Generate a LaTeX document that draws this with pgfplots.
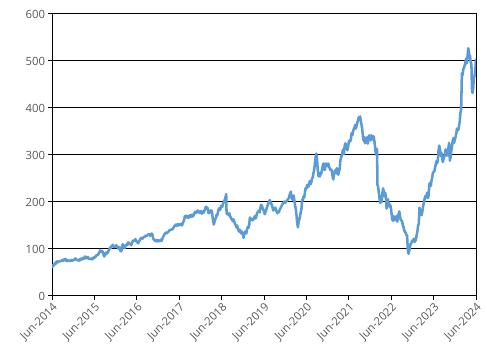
\documentclass[border=0pt]{standalone}
\usepackage{pgfplots}
\pgfplotsset{compat=1.18}
\usepackage{pgfplotstable}
\usepackage{fontspec}
\setmainfont{Open Sans}
\definecolor{lineblue}{HTML}{5B9BD5}
\definecolor{lblgray}{HTML}{595959}
\pgfplotstableread{
m v
0.00 64
0.15 62
0.30 66
0.45 64
0.60 67
0.80 68
0.95 71
1.15 69
1.30 73
1.45 72
1.60 74
1.80 72
2.00 74
2.20 73
2.40 75
2.60 74
2.80 76
3.00 77
3.20 75
3.40 78
3.60 76
3.80 79
4.00 77
4.20 74
4.40 76
4.60 74
4.80 75
5.00 76
5.20 74
5.40 75
5.60 77
5.80 75
6.00 77
6.20 76
6.40 78
6.60 80
6.80 78
7.00 77
7.20 76
7.40 77
7.60 75
7.80 78
8.00 76
8.20 79
8.40 80
8.60 78
8.80 81
9.00 79
9.20 82
9.40 84
9.60 82
9.80 80
10.00 83
10.20 82
10.40 79
10.60 80
10.80 78
11.00 79
11.20 80
11.40 78
11.60 81
11.80 80
12.00 83
12.20 82
12.40 85
12.60 87
12.80 86
13.00 88
13.20 90
13.40 93
13.60 97
13.80 95
14.00 94
14.20 96
14.40 92
14.60 88
14.80 84
15.00 90
15.20 92
15.40 89
15.60 93
15.80 92
16.00 96
16.20 99
16.40 103
16.60 102
16.80 105
17.00 107
17.20 109
17.40 106
17.60 104
17.80 106
18.00 105
18.20 108
18.40 106
18.60 104
18.80 101
19.00 104
19.20 99
19.40 96
19.60 95
19.80 104
20.00 110
20.20 108
20.40 105
20.60 102
20.80 107
21.00 109
21.20 108
21.40 112
21.60 114
21.80 112
22.00 110
22.20 111
22.40 108
22.60 112
22.80 116
23.00 118
23.20 117
23.40 119
23.60 121
23.80 118
24.00 116
24.20 114
24.40 112
24.60 116
24.80 118
25.00 121
25.20 123
25.40 124
25.60 122
25.80 124
26.00 126
26.20 125
26.40 127
26.60 129
26.80 128
27.00 129
27.20 130
27.40 132
27.60 131
27.80 128
28.00 131
28.20 133
28.40 131
28.60 124
28.80 120
29.00 119
29.20 117
29.40 119
29.60 116
29.80 118
30.00 119
30.20 117
30.40 116
30.60 118
30.80 120
31.00 117
31.20 121
31.40 125
31.60 128
31.80 131
32.00 133
32.20 135
32.40 133
32.60 134
32.80 136
33.00 137
33.20 139
33.40 141
33.60 140
33.80 142
34.00 141
34.20 143
34.40 146
34.60 148
34.80 150
35.00 152
35.20 149
35.40 151
35.60 153
35.80 150
36.00 152
36.20 153
36.40 151
36.60 154
36.80 150
37.00 155
37.20 158
37.40 162
37.60 170
37.80 168
38.00 171
38.20 167
38.40 170
38.60 166
38.80 169
39.00 172
39.20 168
39.40 170
39.60 173
39.80 169
40.00 171
40.20 174
40.40 178
40.60 179
40.80 177
41.00 180
41.20 182
41.40 178
41.60 180
41.80 177
42.00 179
42.20 181
42.40 175
42.60 177
42.80 180
43.00 178
43.20 183
43.40 187
43.60 190
43.80 186
44.00 188
44.20 179
44.40 176
44.60 179
44.80 182
45.00 178
45.20 182
45.40 171
45.60 160
45.80 152
46.00 158
46.20 164
46.40 166
46.60 173
46.80 172
47.00 180
47.20 185
47.40 187
47.60 183
47.80 191
48.00 192
48.20 190
48.40 196
48.60 199
48.80 203
49.00 207
49.20 213
49.30 217
49.40 177
49.60 174
49.80 176
50.00 172
50.20 176
50.40 170
50.60 167
50.80 164
51.00 162
51.20 159
51.40 163
51.60 158
51.80 153
52.00 151
52.20 146
52.40 150
52.60 144
52.80 139
53.00 137
53.20 141
53.40 136
53.60 133
53.80 137
54.00 132
54.20 124
54.40 131
54.60 135
54.80 138
55.00 133
55.20 142
55.40 147
55.60 145
55.80 150
56.00 167
56.20 165
56.40 162
56.60 164
56.80 161
57.00 163
57.20 166
57.40 170
57.60 165
57.80 168
58.00 176
58.20 178
58.40 180
58.60 182
58.80 178
59.00 188
59.20 194
59.40 192
59.60 187
59.80 184
60.00 180
60.20 174
60.40 178
60.60 182
60.80 188
61.00 192
61.20 196
61.40 200
61.60 204
61.80 201
62.00 197
62.20 194
62.40 189
62.60 182
62.80 184
63.00 186
63.20 188
63.40 183
63.60 179
63.80 176
64.00 180
64.20 178
64.40 183
64.60 186
64.80 189
65.00 192
65.20 195
65.40 197
65.60 199
65.80 201
66.00 198
66.20 200
66.40 202
66.60 204
66.80 206
67.00 208
67.20 214
67.40 218
67.60 222
67.80 210
68.00 205
68.20 210
68.40 214
68.60 202
68.80 192
69.00 185
69.20 172
69.40 155
69.60 146
69.80 158
70.00 163
70.20 170
70.40 178
70.60 185
70.80 205
71.00 204
71.20 212
71.40 210
71.60 222
71.80 230
72.00 228
72.20 236
72.40 235
72.60 233
72.80 240
73.00 245
73.20 238
73.40 242
73.60 250
73.80 252
74.00 262
74.20 268
74.40 282
74.60 295
74.80 303
75.00 290
75.20 270
75.40 255
75.60 262
75.80 254
76.00 262
76.20 260
76.40 268
76.60 276
76.80 282
77.00 272
77.20 268
77.40 276
77.60 282
77.80 278
78.00 276
78.20 282
78.40 275
78.60 272
78.80 268
79.00 269
79.20 266
79.40 255
79.60 248
79.80 260
80.00 264
80.20 268
80.40 261
80.60 272
80.80 266
81.00 258
81.20 264
81.40 270
81.60 288
81.80 294
82.00 299
82.20 306
82.40 312
82.60 302
82.80 318
83.00 325
83.20 322
83.40 316
83.60 310
83.80 318
84.00 328
84.20 331
84.40 329
84.60 334
84.80 347
85.00 342
85.20 350
85.40 355
85.60 358
85.80 364
86.00 356
86.20 362
86.40 368
86.60 374
86.80 380
87.00 378
87.20 382
87.40 372
87.60 364
87.80 355
88.00 340
88.20 330
88.40 338
88.60 325
88.80 332
89.00 327
89.20 338
89.40 324
89.60 336
89.80 342
90.00 338
90.20 331
90.40 342
90.60 333
90.80 334
91.00 340
91.20 332
91.40 320
91.60 305
91.80 300
92.00 313
92.10 237
92.30 232
92.50 220
92.70 207
92.90 198
93.10 212
93.30 200
93.50 218
93.70 229
93.90 222
94.10 212
94.30 220
94.50 210
94.70 186
94.90 200
95.10 206
95.30 196
95.50 190
95.70 194
95.90 188
96.10 175
96.30 163
96.50 160
96.70 170
96.90 161
97.10 168
97.30 166
97.50 170
97.70 158
97.90 167
98.10 175
98.30 180
98.50 170
98.70 162
98.90 161
99.10 158
99.30 150
99.50 146
99.70 140
99.90 136
100.10 135
100.30 130
100.50 128
100.70 98
100.90 90
101.10 96
101.30 104
101.50 111
101.70 112
101.90 118
102.20 116
102.40 122
102.60 115
102.80 117
103.00 120
103.20 130
103.40 136
103.60 150
103.80 153
104.00 188
104.20 179
104.40 174
104.60 172
104.80 179
105.00 190
105.20 197
105.40 204
105.60 212
105.80 210
106.00 214
106.20 220
106.40 208
106.60 215
106.80 238
107.00 241
107.20 234
107.40 245
107.60 252
107.80 262
108.00 264
108.20 265
108.40 272
108.60 280
108.80 287
109.00 282
109.20 290
109.40 310
109.60 320
109.80 312
110.00 298
110.20 305
110.40 296
110.60 285
110.80 292
111.00 296
111.20 300
111.40 312
111.60 304
111.80 299
112.00 300
112.20 316
112.40 326
112.60 288
112.80 296
113.00 308
113.20 318
113.40 330
113.60 336
113.80 326
114.00 332
114.20 338
114.40 345
114.60 356
114.80 353
115.00 353
115.20 362
115.40 372
115.60 390
115.80 398
116.00 474
116.20 470
116.40 482
116.60 486
116.80 491
117.00 497
117.20 505
117.40 495
117.60 510
117.80 527
118.00 520
118.10 512
118.30 511
118.50 497
118.70 493
118.85 441
119.00 432
119.20 441
119.40 465
119.60 468
119.80 480
120.00 505
}\meta
\begin{document}
\begin{tikzpicture}
\begin{axis}[
  scale only axis,
  width=318pt, height=211.5pt,
  xmin=0, xmax=120, ymin=0, ymax=600,
  xtick={0,12,...,120},
  xticklabels={Jun-2014,Jun-2015,Jun-2016,Jun-2017,Jun-2018,Jun-2019,Jun-2020,Jun-2021,Jun-2022,Jun-2023,Jun-2024},
  ytick={0,100,...,600},
  xtick pos=left, ytick pos=left,
  tick align=outside,
  major tick length=3pt,
  every tick/.style={black, line width=0.75pt},
  axis line style={black, line width=0.75pt},
  ymajorgrids,
  grid style={black, line width=0.75pt},
  ticklabel style={font=\fontsize{8.5}{10}\selectfont, text=lblgray},
  /pgf/number format/assume math mode=true,
  xticklabel style={rotate=45, anchor=north east, inner sep=1pt},
  yticklabel style={inner sep=2pt},
  clip=true,
]
\addplot[lineblue, line width=1.9pt, line join=round] table[x=m, y=v] {\meta};
\coordinate (sw) at (rel axis cs:0,0);
\coordinate (ne) at (rel axis cs:1,1);
\end{axis}
\pgfresetboundingbox
\path[use as bounding box] ([xshift=-39pt,yshift=-46.5pt]sw) rectangle ([xshift=8.25pt,yshift=10.5pt]ne);
\end{tikzpicture}
\end{document}
